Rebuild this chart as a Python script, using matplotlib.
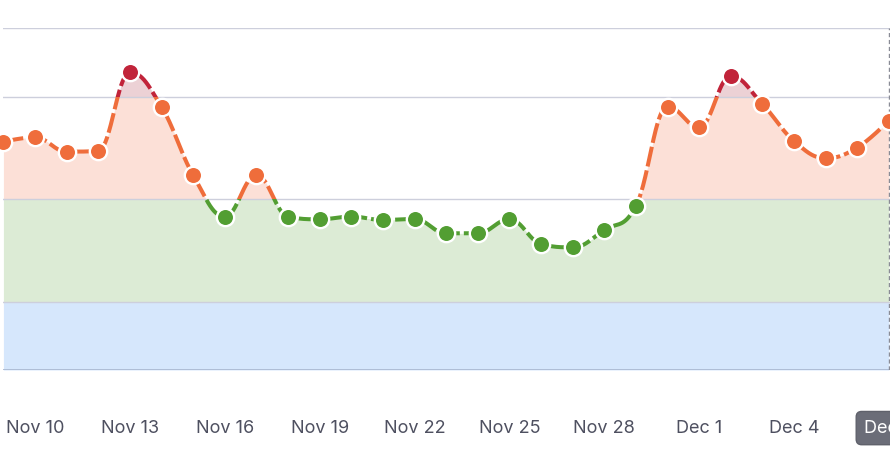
import numpy as np
import matplotlib
matplotlib.use("Agg")
import matplotlib.pyplot as plt
from matplotlib.patches import Rectangle

# daily values, Nov 9 .. Dec 7
dates = ["Nov 9", "Nov 10", "Nov 11", "Nov 12", "Nov 13", "Nov 14", "Nov 15",
         "Nov 16", "Nov 17", "Nov 18", "Nov 19", "Nov 20", "Nov 21", "Nov 22",
         "Nov 23", "Nov 24", "Nov 25", "Nov 26", "Nov 27", "Nov 28", "Nov 29",
         "Nov 30", "Dec 1", "Dec 2", "Dec 3", "Dec 4", "Dec 5", "Dec 6", "Dec 7"]
values = [6.68, 6.81, 6.39, 6.41, 8.71, 7.70, 5.70,
          4.49, 5.70, 4.49, 4.41, 4.49, 4.39, 4.42,
          4.00, 4.00, 4.41, 3.69, 3.59, 4.10, 4.80,
          7.71, 7.10, 8.60, 7.78, 6.70, 6.20, 6.51, 7.30]
tick_labels = ["Nov 10", "Nov 13", "Nov 16", "Nov 19", "Nov 22",
               "Nov 25", "Nov 28", "Dec 1", "Dec 4"]
hover_label = "Dec 7"

# zones: (low, high, line colour, fill colour)
zones = [(0, 2, "#7cb5ec", "#d6e7fc"),
         (2, 5, "#529e32", "#dcebd5"),
         (5, 8, "#ef6d3b", "#fce0d7"),
         (8, 20, "#c1243a", "#ecd1d5")]
grid_levels = [2, 5, 8, 10]


def spline(xs, ys, smoothing=1.5, n=40):
    """Smooth curve through the points (highcharts style control points)."""
    xs = np.asarray(xs, float)
    ys = np.asarray(ys, float)
    m = len(xs)
    lcx, lcy = xs.copy(), ys.copy()
    rcx, rcy = xs.copy(), ys.copy()
    d = smoothing + 1
    for i in range(1, m - 1):
        px, py = xs[i], ys[i]
        lx, ly = xs[i - 1], ys[i - 1]
        nx, ny = xs[i + 1], ys[i + 1]
        a_x, a_y = (smoothing * px + lx) / d, (smoothing * py + ly) / d
        b_x, b_y = (smoothing * px + nx) / d, (smoothing * py + ny) / d
        corr = (b_y - a_y) * (b_x - px) / (b_x - a_x) + py - b_y
        a_y += corr
        b_y += corr
        if a_y > ly and a_y > py:
            a_y = max(ly, py)
            b_y = 2 * py - a_y
        elif a_y < ly and a_y < py:
            a_y = min(ly, py)
            b_y = 2 * py - a_y
        if b_y > ny and b_y > py:
            b_y = max(ny, py)
            a_y = 2 * py - b_y
        elif b_y < ny and b_y < py:
            b_y = min(ny, py)
            a_y = 2 * py - b_y
        lcx[i], lcy[i], rcx[i], rcy[i] = a_x, a_y, b_x, b_y
    t = np.linspace(0, 1, n)[:, None]
    out_x, out_y = [], []
    for i in range(m - 1):
        p = np.array([[xs[i], ys[i]], [rcx[i], rcy[i]],
                      [lcx[i + 1], lcy[i + 1]], [xs[i + 1], ys[i + 1]]])
        seg = ((1 - t) ** 3 * p[0] + 3 * (1 - t) ** 2 * t * p[1]
               + 3 * (1 - t) * t ** 2 * p[2] + t ** 3 * p[3])
        if i > 0:
            seg = seg[1:]
        out_x.append(seg[:, 0])
        out_y.append(seg[:, 1])
    return np.concatenate(out_x), np.concatenate(out_y)


x = np.arange(len(values))
sx, sy = spline(x, values)

fig = plt.figure(figsize=(8.9, 4.74), dpi=100)
ax = fig.add_axes([3 / 890, 104 / 474, 887 / 890, 341.7 / 474])
ax.set_xlim(-0.013, len(values) - 1 + 0.035)
ax.set_ylim(0, 10)
for s in ax.spines.values():
    s.set_visible(False)
ax.set_yticks([])

# area under the curve, coloured by zone
for lo, hi, lc, fc in zones:
    f = ax.fill_between(sx, 0, sy, color=fc, lw=0, zorder=1)
    f.set_clip_path(Rectangle((-1, lo), 40, hi - lo, transform=ax.transData))

for lev in grid_levels:
    ax.axhline(lev, color="#cdcfdc", lw=1, zorder=2)
ax.axhline(0, color="#a8b6cf", lw=1.2, zorder=2)

# line, coloured by zone
for lo, hi, lc, fc in zones:
    ln, = ax.plot(sx, sy, color=lc, lw=2.9, ls=(0, (5, 1.0)),
                  solid_capstyle="butt", dash_capstyle="butt", zorder=3)
    ln.set_clip_path(Rectangle((-1, lo), 40, hi - lo, transform=ax.transData))

# markers
for xi, v in zip(x, values):
    c = [z[2] for z in zones if z[0] <= v < z[1]][0]
    ax.plot(xi, v, "o", ms=12.5, mfc=c, mec="white", mew=1.7,
            zorder=4, clip_on=False)

# hover crosshair on the last day
hover = len(values) - 1
ax.axvline(hover, color="#8a8c96", lw=1, ls=(0, (3, 2)), zorder=2.5)

tick_pos = [dates.index(t) for t in tick_labels]
ax.set_xticks(tick_pos, tick_labels)
ax.tick_params(axis="x", length=0, pad=36, labelsize=13,
               labelcolor="#4e5060")
for lab in ax.get_xticklabels():
    lab.set_fontfamily("Inter")

ax.text(hover, -0.17, hover_label, transform=ax.get_xaxis_transform(),
        ha="center", va="center", fontsize=13, color="white",
        family="Inter", clip_on=False,
        bbox=dict(boxstyle="round,pad=0.45,rounding_size=0.3",
                  fc="#6b6d78", ec="#5f616b", lw=1))

fig.savefig("out.png", dpi=100)
